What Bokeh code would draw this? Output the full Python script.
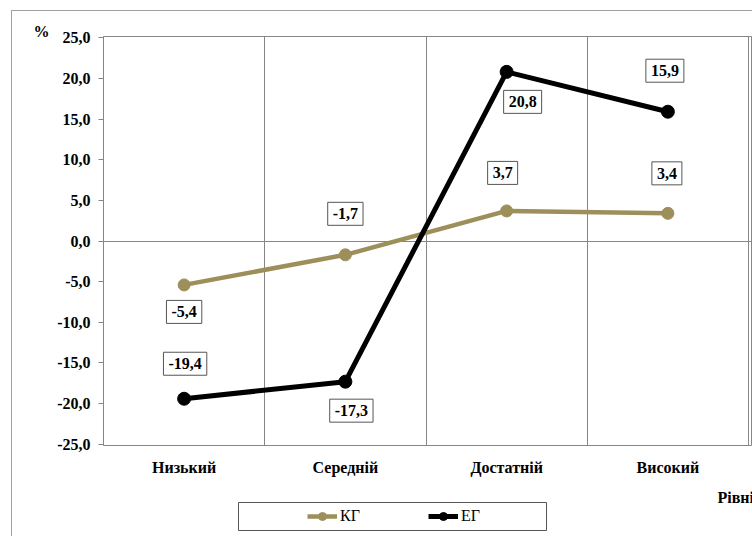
from bokeh.plotting import figure
from bokeh.models import FixedTicker, Label, Legend, LegendItem
from bokeh.layouts import column
from bokeh.embed import file_html
from bokeh.resources import INLINE

categories = ["Низький", "Середній", "Достатній", "Високий"]
kg_values = [-5.4, -1.7, 3.7, 3.4]
eg_values = [-19.4, -17.3, 20.8, 15.9]
y_ticks = [-25, -20, -15, -10, -5, 0, 5, 10, 15, 20, 25]
series_names = ["КГ", "ЕГ"]
x_title = "Рівні"
y_title = "%"

# label offsets (screen px; y positive = up)
kg_label_dx = [0, 0, -4, -1]
kg_label_dy = [-27, 41, 38, 40]
eg_label_dx = [1, 6, 16, -3]
eg_label_dy = [35, -29, -30, 41]

FONT = "Liberation Serif"
KG_COLOR = "#9d8f5a"
EG_COLOR = "#000000"
GRID = "#868686"

def fmt(v):
    return f"{v:.1f}".replace(".", ",")

n = len(categories)
xs = [i + 0.5 for i in range(n)]

# ---------------- main chart ----------------
pad = 0.15
p = figure(width=740, height=469, x_range=(0, n * 649 / 645),
           y_range=(y_ticks[0] - pad, y_ticks[-1] + pad),
           output_backend="svg", toolbar_location=None,
           min_border_left=91, min_border_top=25, min_border_right=0, min_border_bottom=35)

p.outline_line_color = GRID
p.outline_line_width = 1
p.background_fill_color = "white"
p.border_fill_color = "white"

p.title.text = y_title
p.title.align = "left"
p.title.offset = -70
try:
    p.title.standoff = -7
except Exception:
    p.title.standoff = 0
p.title.text_font = FONT
p.title.text_font_style = "bold"
p.title.text_font_size = "16px"
p.title.text_color = "black"

p.yaxis.ticker = FixedTicker(ticks=y_ticks)
p.yaxis.major_label_overrides = {t: fmt(t) for t in y_ticks}
p.yaxis.axis_line_color = GRID
p.yaxis.major_tick_line_color = GRID
p.yaxis.major_tick_in = 0
p.yaxis.major_tick_out = 5
p.yaxis.minor_tick_line_color = None
p.yaxis.major_label_text_font = FONT
p.yaxis.major_label_text_font_style = "bold"
p.yaxis.major_label_text_font_size = "16px"
p.yaxis.major_label_text_color = "black"
p.yaxis.major_label_standoff = 8

p.xaxis.ticker = FixedTicker(ticks=xs)
p.xaxis.major_label_overrides = {x: c for x, c in zip(xs, categories)}
p.xaxis.axis_line_color = None
p.xaxis.major_tick_line_color = None
p.xaxis.major_tick_in = 0
p.xaxis.major_tick_out = 0
p.xaxis.minor_tick_line_color = None
p.xaxis.major_label_text_font = FONT
p.xaxis.major_label_text_font_style = "bold"
p.xaxis.major_label_text_font_size = "16px"
p.xaxis.major_label_text_color = "black"
p.xaxis.major_label_standoff = 13

p.xgrid.ticker = FixedTicker(ticks=list(range(1, n + 1)))
p.xgrid.grid_line_color = GRID
p.xgrid.grid_line_width = 1
p.ygrid.ticker = FixedTicker(ticks=[0])
p.ygrid.grid_line_color = GRID
p.ygrid.grid_line_width = 1

p.line(xs, kg_values, line_color=KG_COLOR, line_width=4.5)
p.scatter(xs, kg_values, size=12, fill_color=KG_COLOR, line_color=KG_COLOR)
p.line(xs, eg_values, line_color=EG_COLOR, line_width=5)
p.scatter(xs, eg_values, size=13, fill_color=EG_COLOR, line_color=EG_COLOR)

for vals, dxs, dys in ((kg_values, kg_label_dx, kg_label_dy),
                       (eg_values, eg_label_dx, eg_label_dy)):
    for x, v, dx, dy in zip(xs, vals, dxs, dys):
        p.add_layout(Label(x=x, y=v, text=fmt(v), x_offset=dx, y_offset=dy,
                           text_align="center", text_baseline="middle",
                           text_font=FONT, text_font_style="bold", text_font_size="16px",
                           text_color="black",
                           background_fill_color="white",
                           border_line_color="#555555", border_line_width=1,
                           padding=dict(left=5, right=5, top=6, bottom=6)))

# ---------------- bottom strip: axis title + legend ----------------
H2 = 56
p2 = figure(width=740, height=H2, x_range=(0, 649), y_range=(0, H2),
            output_backend="svg", toolbar_location=None,
            x_axis_type=None, y_axis_type=None,
            min_border_left=91, min_border_right=0, min_border_top=0, min_border_bottom=0)
p2.outline_line_color = None
p2.background_fill_color = "white"
p2.border_fill_color = "white"

p2.add_layout(Label(x=614, y=39, text=x_title, text_align="left", text_baseline="middle",
                    text_font=FONT, text_font_style="bold", text_font_size="16px",
                    text_color="black"))

p2.quad(left=135, right=443, bottom=6, top=34, fill_color="white",
        line_color="#555555", line_width=1)

kg_l = p2.line(xs, kg_values, line_color=KG_COLOR, line_width=4.5, visible=False)
kg_s = p2.scatter(xs, kg_values, size=12, fill_color=KG_COLOR, line_color=KG_COLOR, visible=False)
eg_l = p2.line(xs, eg_values, line_color=EG_COLOR, line_width=5, visible=False)
eg_s = p2.scatter(xs, eg_values, size=13, fill_color=EG_COLOR, line_color=EG_COLOR, visible=False)

legend = Legend(items=[LegendItem(label=series_names[0], renderers=[kg_l, kg_s]),
                       LegendItem(label=series_names[1], renderers=[eg_l, eg_s])],
                orientation="horizontal", location=(204, 10),
                margin=0, padding=0, spacing=68,
                glyph_width=30, glyph_height=20, label_width=20, label_height=20,
                label_standoff=3,
                label_text_font=FONT, label_text_font_size="16px",
                label_text_color="black",
                border_line_color=None, background_fill_alpha=0,
                inactive_fill_alpha=0)
p2.add_layout(legend, "center")

layout = column(p, p2, spacing=0, margin=(10, 0, 0, 11))
layout.styles = {"border-left": "1px solid #a0a0a0", "border-top": "1px solid #a0a0a0"}
open("out.html", "w").write(file_html(layout, INLINE))
